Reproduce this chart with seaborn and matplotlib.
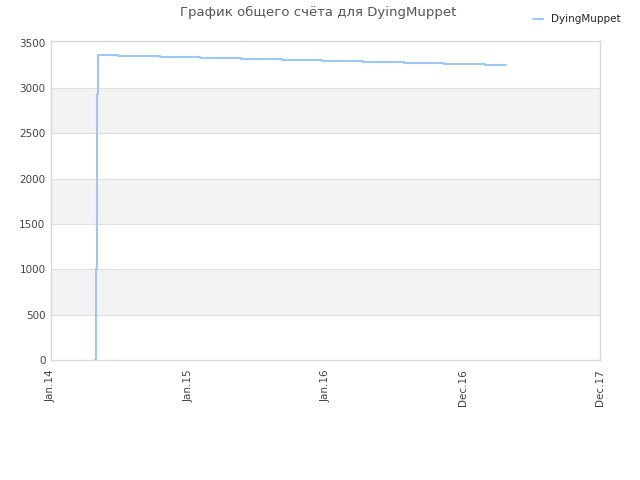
import pandas as pd
import seaborn as sns
import matplotlib.pyplot as plt
import matplotlib.dates as mdates

# данные
dates = ['2014-04-30', '2014-05-02', '2014-05-05', '2014-06-28', '2014-10-17',
         '2015-01-31', '2015-05-20', '2015-09-06', '2015-12-22', '2016-04-09',
         '2016-07-27', '2016-11-11', '2017-02-28', '2017-04-25']
scores = [1000, 2930, 3360, 3349, 3338,
          3327, 3316, 3305, 3294, 3283,
          3272, 3261, 3250, 3250]
player = 'DyingMuppet'

tick_dates = ['2014-01-01', '2015-01-01', '2016-01-01', '2016-12-31', '2017-12-31']
y_ticks = [0, 500, 1000, 1500, 2000, 2500, 3000, 3500]

df = pd.DataFrame({'date': pd.to_datetime(['2014-04-29'] + dates),
                   'score': [0] + scores})
df['player'] = player

sns.set_style('white')
plt.rcParams['font.family'] = ['DejaVu Sans']

fig = plt.figure(figsize=(6.4, 4.8), dpi=100)
ax = fig.add_axes([0.0797, 0.25, 0.858, 0.665])

# чередующиеся серые полосы
for lo in range(500, 3500, 1000):
    ax.axhspan(lo, lo + 500, color='#f3f3f3', zorder=0, lw=0)
for y in y_ticks[1:-1]:
    ax.axhline(y, color='#e0e0e0', lw=0.8, zorder=1)

sns.lineplot(data=df, x='date', y='score', hue='player', palette=['#9dc8f5'],
             drawstyle='steps-post', lw=1.5, ax=ax, zorder=3)

ax.set_xlim(pd.Timestamp('2014-01-01'), pd.Timestamp('2017-12-31'))
ax.set_ylim(0, 3520)
ax.set_yticks(y_ticks)
ax.set_xticks(pd.to_datetime(tick_dates))
ax.xaxis.set_major_formatter(mdates.DateFormatter('%b.%y'))
ax.tick_params(axis='x', rotation=90, labelsize=7.5, colors='#444444', length=0, pad=7)
ax.tick_params(axis='y', labelsize=7.5, colors='#444444', length=0, pad=4)
ax.set_xlabel('')
ax.set_ylabel('')
for s in ax.spines.values():
    s.set_color('#d8d8d8')
    s.set_linewidth(1)

fig.suptitle('График общего счёта для DyingMuppet', x=0.497, y=0.987,
             fontsize=9.5, color='#555555')
ax.legend(loc='upper right', bbox_to_anchor=(0.985, 0.99), bbox_transform=fig.transFigure,
          frameon=False, fontsize=7.5, handlelength=1.0, title=None)

fig.savefig('out.png', dpi=100)
